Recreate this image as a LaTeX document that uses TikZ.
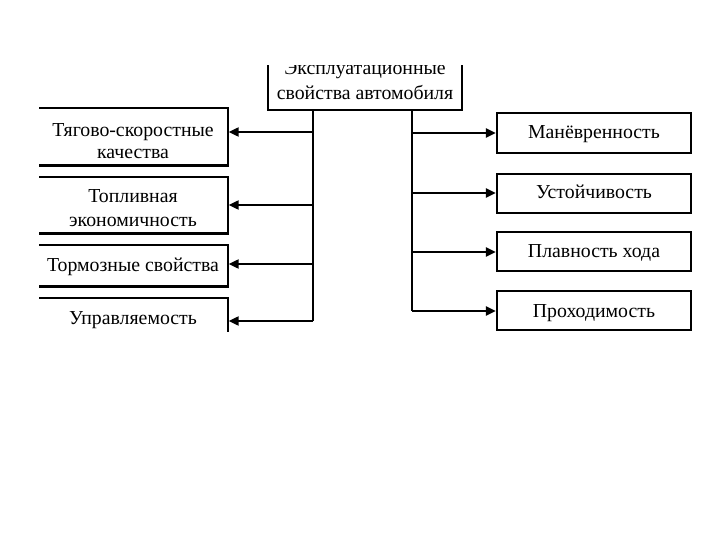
\documentclass[tikz,border=0pt]{standalone}
\usepackage{fontspec}
\setmainfont{Liberation Serif}
\usetikzlibrary{arrows.meta}
\begin{document}
\begin{tikzpicture}[x=1pt,y=-1pt,
  txt/.style={font=\fontsize{19.8pt}{23pt}\selectfont, align=center, inner sep=0pt, anchor=base},
  lbox/.style={draw, line width=1.4pt, minimum width=190pt, inner sep=0pt},
  rbox/.style={draw, line width=2.2pt, minimum width=194pt, inner sep=0pt},
  tbox/.style={draw, line width=1.4pt, minimum width=194pt, minimum height=52pt, inner sep=0pt},
  thickbottom/.style={line width=2.8pt},
  arr/.style={line width=2.2pt, -{Triangle[length=10pt,width=9pt]}},
  trunk/.style={line width=1.4pt}]
\useasboundingbox (0,0) rectangle (720,540);
\begin{scope}
\clip (39,65.5) rectangle (720,331.5);
% top box
\node[tbox] (top) at (365,84) {};
\node[txt, font=\fontsize{19.8pt}{25pt}\selectfont] (topt) at (365,100) {Эксплуатационные\\свойства автомобиля};
% left boxes
\node[lbox, minimum height=57pt] (l1) at (133,136.5) {};
\node[txt, font=\fontsize{19.8pt}{22pt}\selectfont] (l1t) at (133,159) {Тягово-скоростные\\качества};
\node[lbox, minimum height=56pt] (l2) at (133,205) {};
\node[txt, font=\fontsize{19.8pt}{24pt}\selectfont] (l2t) at (133,226.5) {Топливная\\экономичность};
\node[lbox, minimum height=41pt] (l3) at (133,265.5) {};
\node[txt] (l3t) at (133,271.5) {Тормозные свойства};
\node[lbox, minimum height=52pt] (l4) at (133,324) {};
\node[txt] (l4t) at (133,324) {Управляемость};
\foreach \n in {l1,l2,l3,l4}
  \draw[thickbottom] (\n.south west) -- (\n.south east);
% right boxes
\node[rbox, minimum height=40pt] (r1) at (594,133) {};
\node[txt] (r1t) at (594,138.5) {Манёвренность};
\node[rbox, minimum height=39pt] (r2) at (594,193.5) {};
\node[txt] (r2t) at (594,198.5) {Устойчивость};
\node[rbox, minimum height=39pt] (r3) at (594,251.5) {};
\node[txt] (r3t) at (594,257.5) {Плавность хода};
\node[rbox, minimum height=39pt] (r4) at (594,310.5) {};
\node[txt] (r4t) at (594,317) {Проходимость};
% trunks
\coordinate (lt) at (313,110);
\coordinate (lb) at (313,321);
\coordinate (rt) at (412,110);
\coordinate (rb) at (412,311);
\draw[trunk] (lt) -- (lb);
\draw[trunk] (rt) -- (rb);
% left arrows
\coordinate (a1) at (313,132);
\coordinate (a2) at (313,205);
\coordinate (a3) at (313,264);
\draw[arr] (a1) -- (a1 -| l1.east);
\draw[arr] (a2) -- (a2 -| l2.east);
\draw[arr] (a3) -- (a3 -| l3.east);
\draw[arr] (lb) -- (lb -| l4.east);
% right arrows
\coordinate (b1) at (412,133);
\coordinate (b2) at (412,193);
\coordinate (b3) at (412,252);
\draw[arr] (b1) -- (b1 -| r1.west);
\draw[arr] (b2) -- (b2 -| r2.west);
\draw[arr] (b3) -- (b3 -| r3.west);
\draw[arr] (rb) -- (rb -| r4.west);
\end{scope}
\end{tikzpicture}
\end{document}
